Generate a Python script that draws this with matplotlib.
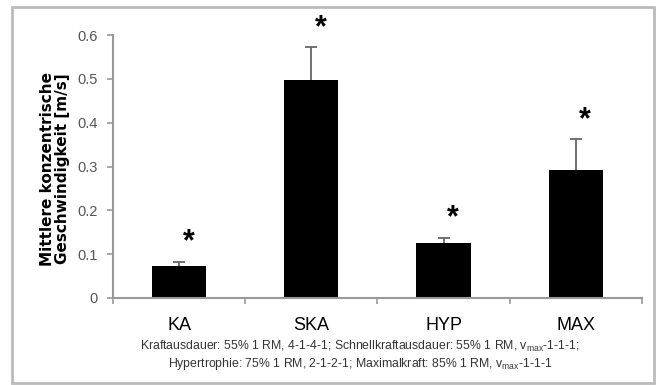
import numpy as np
import matplotlib
matplotlib.use("Agg")
from matplotlib import pyplot as plt
from matplotlib.patches import Rectangle

plt.rcParams['font.family'] = ['Liberation Sans', 'DejaVu Sans']
plt.rcParams['mathtext.fontset'] = 'custom'
plt.rcParams['mathtext.rm'] = 'Liberation Sans'
plt.rcParams['mathtext.it'] = 'Liberation Sans'

# data
groups = ["KA", "SKA", "HYP", "MAX"]
means = [0.073, 0.498, 0.125, 0.291]
errs = [0.009, 0.074, 0.013, 0.071]
yticks = [0, 0.1, 0.2, 0.3, 0.4, 0.5, 0.6]
ytick_labels = ["0", "0.1", "0.2", "0.3", "0.4", "0.5", "0.6"]
ylabel = "Mittlere konzentrische\nGeschwindigkeit [m/s]"
note = ("Kraftausdauer: 55% 1 RM, 4-1-4-1; Schnellkraftausdauer: 55% 1 RM, v$_{max}$-1-1-1;\n"
        "Hypertrophie: 75% 1 RM, 2-1-2-1; Maximalkraft: 85% 1 RM, v$_{max}$-1-1-1")

fig = plt.figure(figsize=(6.61, 3.85), dpi=100)
ax = fig.add_axes([0.171, 0.226, 0.8, 0.683])

x = np.arange(len(groups))
tops = np.array(means) + np.array(errs)
ax.bar(x, means, width=0.41, color="black", zorder=2)
# upper error bars only
ax.vlines(x, means, tops, color="#666666", linewidth=1.3, zorder=3)
ax.plot(x, tops, linestyle="none", marker="_", markersize=8,
        markeredgewidth=1.3, color="#666666", zorder=3)
for xi, t in zip(x, tops):
    ax.text(xi + 0.07, t + 0.01, "*", ha="center", va="bottom",
            fontsize=22, fontweight="bold", color="black")

ax.set_xlim(-0.5, len(groups) - 0.5)
ax.set_ylim(0, 0.6)
ax.set_yticks(yticks)
ax.set_yticklabels(ytick_labels, fontsize=10.5, color="#555555")
ax.set_xticks(x)
ax.set_xticklabels(groups, fontsize=13, color="black")
ax.set_xticks(np.arange(len(groups) + 1) - 0.5, minor=True)
ax.tick_params(axis="x", which="major", length=0, pad=14)
ax.tick_params(axis="x", which="minor", length=4, color="#999999", width=1.2)
ax.tick_params(axis="y", length=4, color="#999999", width=1.2, pad=7)
for s in ["top", "right"]:
    ax.spines[s].set_visible(False)
for s in ["left", "bottom"]:
    ax.spines[s].set_color("#999999")
    ax.spines[s].set_linewidth(1.5)

fig.text(0.083, 0.561, ylabel, rotation=90, ha="center", va="center",
         fontsize=11, fontweight="bold", linespacing=1.05,
         family=["DejaVu Sans"])
fig.text(0.545, 0.076, note, ha="center", va="center", fontsize=8.8,
         color="#333333", linespacing=1.2)

fig.add_artist(Rectangle((12 / 661, 2 / 385), 642 / 661, 376 / 385,
                         transform=fig.transFigure, fill=False,
                         edgecolor="#bbbbbb", linewidth=2))

fig.savefig("out.png", dpi=100)
